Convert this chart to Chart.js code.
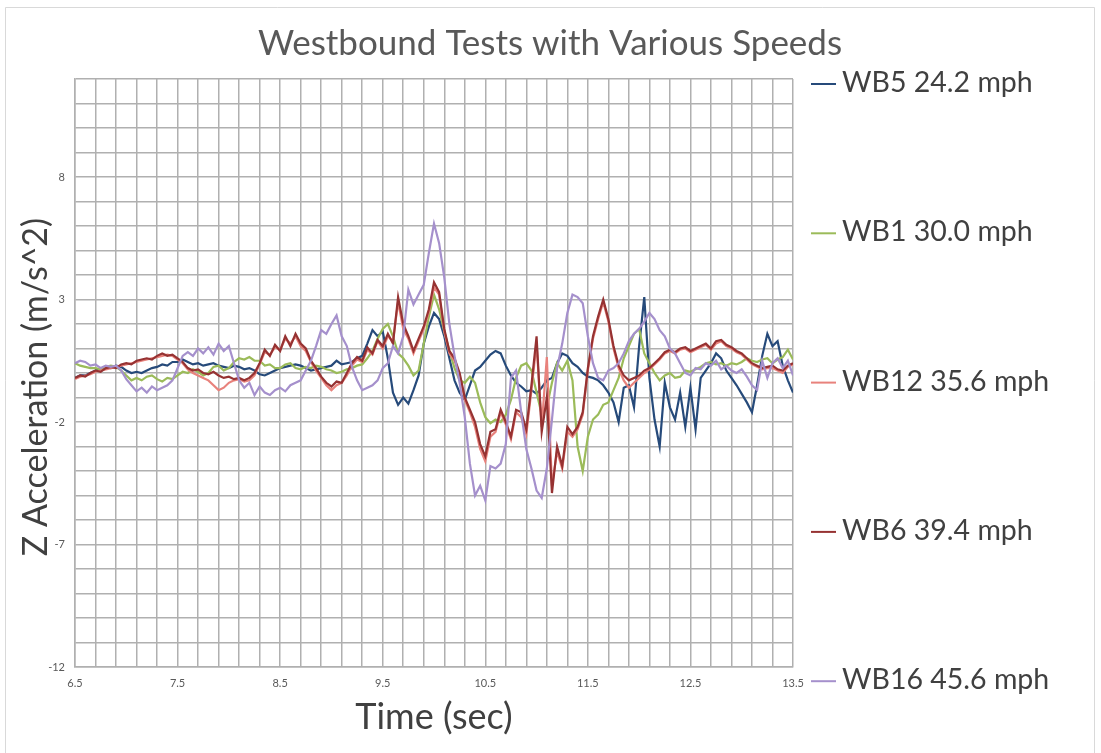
<!DOCTYPE html>
<html>
<head>
<meta charset="utf-8">
<script src="https://cdn.jsdelivr.net/npm/chart.js@4/dist/chart.umd.min.js"></script>
<style>
  html, body { margin: 0; padding: 0; background: #fff; }
  #wrap { position: relative; width: 1101px; height: 753px; }
</style>
</head>
<body>
<div id="wrap"><canvas id="chart" width="1101" height="753"></canvas></div>
<script>
// sampling of the traces (sec)
var t0 = 6.5;
var dt = 0.05;

var seriesNames = ['WB5 24.2 mph', 'WB1 30.0 mph', 'WB12 35.6 mph', 'WB6 39.4 mph', 'WB16 45.6 mph'];
var seriesColors = ['#264a7a', '#9bbb59', '#e8827c', '#963232', '#a590cc'];

var xTickLabels = ['6.5', '7.5', '8.5', '9.5', '10.5', '11.5', '12.5', '13.5'];
var yTickLabels = [-12, -7, -2, 3, 8];

// Z acceleration (m/s^2), one value every 0.05 s from 6.5 to 13.5
var wb5 = [
  -0.2, -0.1, -0.1, 0.0, 0.1, 0.15, 0.25, 0.2, 0.3, 0.25, 0.1, 0.0, 0.05, 0.0, 0.1, 0.2, 0.25, 0.35, 0.3, 0.45,
  0.45, 0.55, 0.45, 0.35, 0.4, 0.3, 0.35, 0.4, 0.3, 0.25, 0.2, 0.3, 0.25, 0.15, 0.2, 0.1, -0.05, -0.1, 0.0, 0.1,
  0.2, 0.25, 0.3, 0.35, 0.3, 0.2, 0.1, 0.15, 0.2, 0.25, 0.3, 0.5, 0.35, 0.4, 0.45, 0.6, 0.7, 1.2, 1.75, 1.5,
  1.7, 0.6, -0.8, -1.3, -1.0, -1.25, -0.7, -0.1, 1.2, 1.9, 2.45, 2.2, 1.5, 0.6, -0.3, -0.8, -1.1, -0.5, 0.1, 0.25,
  0.5, 0.75, 0.9, 0.8, 0.3, -0.1, -0.4, -0.55, -0.75, -0.7, -0.85, -0.6, -0.3, -0.2, 0.4, 0.8, 0.7, 0.4, 0.25, 0.0,
  -0.15, -0.2, -0.3, -0.5, -0.8, -1.2, -2.0, -0.6, -0.5, -1.4, 1.1, 3.1, -0.2, -1.9, -3.0, -0.4, -1.4, -1.9, -0.8, -2.2,
  -0.6, -2.3, -0.2, 0.1, 0.4, 0.8, 0.6, 0.1, -0.2, -0.5, -0.85, -1.2, -1.6, -0.5, 0.7, 1.6, 1.1, 1.3, 0.3, -0.3,
  -0.8
];
var wb1 = [
  0.4, 0.3, 0.25, 0.2, 0.2, 0.15, 0.25, 0.3, 0.25, 0.1, -0.1, -0.3, -0.2, -0.3, -0.15, -0.1, -0.25, -0.35, -0.2, -0.25,
  -0.1, 0.05, 0.0, 0.15, 0.05, -0.1, 0.0, 0.25, 0.3, 0.1, 0.2, 0.45, 0.6, 0.55, 0.65, 0.5, 0.5, 0.3, 0.35, 0.2,
  0.2, 0.35, 0.4, 0.2, 0.15, 0.25, 0.2, 0.3, 0.25, 0.15, 0.1, 0.0, 0.05, 0.15, 0.2, 0.3, 0.35, 0.6, 0.9, 1.4,
  1.8, 2.0, 1.5, 0.8, 0.6, 0.3, -0.1, 0.1, 1.2, 2.3, 3.2, 2.6, 1.7, 0.9, 0.2, -0.3, -0.4, -0.15, -0.4, -1.2,
  -1.8, -2.05, -1.9, -2.0, -1.7, -1.1, -0.2, 0.3, 0.4, 0.1, -0.8, -1.7, -1.4, -0.4, 0.4, 0.1, 0.5, -0.3, -3.0, -4.0,
  -2.6, -1.9, -1.7, -1.3, -1.2, -0.7, -0.2, 0.6, 1.1, 1.6, 1.8, 0.8, 0.4, 0.0, -0.3, -0.1, 0.0, -0.2, -0.15, 0.1,
  0.05, 0.15, 0.25, 0.4, 0.45, 0.35, 0.4, 0.3, 0.4, 0.35, 0.45, 0.6, 0.5, 0.45, 0.55, 0.6, 0.4, 0.55, 0.65, 0.95,
  0.55
];
var wb12 = [
  -0.25, -0.15, -0.1, -0.05, 0.05, 0.1, 0.15, 0.2, 0.25, 0.3, 0.35, 0.4, 0.45, 0.5, 0.55, 0.6, 0.65, 0.7, 0.75, 0.7,
  0.55, 0.4, 0.15, 0.0, -0.1, -0.2, -0.3, -0.5, -0.7, -0.6, -0.4, -0.3, -0.25, -0.35, -0.3, -0.1, 0.35, 0.85, 0.75, 1.05,
  0.95, 1.4, 1.2, 1.5, 1.1, 0.9, 0.45, 0.1, -0.2, -0.5, -0.7, -0.5, -0.4, -0.1, 0.3, 0.55, 0.45, 0.95, 0.75, 1.3,
  1.0, 1.5, 1.3, 2.9, 1.8, 1.4, 0.8, 1.3, 1.8, 2.5, 3.5, 3.2, 1.7, 0.8, 0.5, -0.1, -1.1, -1.6, -2.2, -3.1,
  -3.6, -2.6, -2.4, -1.6, -2.1, -2.7, -1.6, -1.8, -2.5, -0.7, 1.2, -2.2, 0.65, -4.6, -3.2, -3.9, -2.4, -2.6, -2.3, -1.7,
  0.1, 1.4, 2.2, 2.9, 2.1, 1.0, 0.2, -0.3, -0.6, -0.4, -0.2, 0.0, 0.15, 0.35, 0.55, 0.8, 0.9, 0.8, 0.95, 1.0,
  0.85, 0.95, 1.05, 1.15, 0.95, 1.2, 1.3, 1.1, 1.0, 0.85, 0.75, 0.55, 0.35, 0.25, 0.15, 0.2, 0.2, 0.1, 0.0, 0.25,
  0.35
];
var wb6 = [
  -0.2, -0.1, -0.15, 0.0, 0.1, 0.05, 0.2, 0.25, 0.2, 0.35, 0.4, 0.35, 0.5, 0.55, 0.6, 0.55, 0.7, 0.8, 0.7, 0.75,
  0.6, 0.45, 0.2, 0.1, 0.15, 0.0, -0.05, 0.05, -0.1, -0.2, -0.15, -0.25, -0.2, -0.3, -0.2, 0.0, 0.4, 0.95, 0.7, 1.15,
  0.9, 1.5, 1.1, 1.6, 1.2, 1.0, 0.5, 0.2, -0.15, -0.4, -0.55, -0.35, -0.4, 0.0, 0.4, 0.65, 0.5, 1.05, 0.8, 1.35,
  1.1, 1.6, 1.2, 3.1, 2.0, 1.5, 0.9, 1.4, 1.9, 2.6, 3.7, 3.3, 1.8, 0.9, 0.6, 0.0, -1.0, -1.5, -2.0, -2.9,
  -3.4, -2.4, -2.3, -1.5, -2.0, -2.6, -1.5, -1.6, -2.3, -0.5, 1.5, -2.4, -1.0, -4.9, -3.0, -3.8, -2.2, -2.5, -2.2, -1.6,
  0.2, 1.5, 2.3, 3.0, 2.2, 1.1, 0.3, -0.1, -0.3, -0.2, -0.1, 0.1, 0.2, 0.4, 0.6, 0.85, 0.95, 0.85, 1.0, 1.05,
  0.9, 1.0, 1.1, 1.2, 1.0, 1.3, 1.35, 1.15, 1.05, 0.9, 0.8, 0.6, 0.4, 0.3, 0.2, 0.25, 0.3, 0.15, 0.1, 0.3,
  0.4
];
var wb16 = [
  0.4, 0.5, 0.45, 0.3, 0.35, 0.2, 0.3, 0.25, 0.3, 0.1, -0.25, -0.5, -0.75, -0.6, -0.8, -0.55, -0.7, -0.6, -0.5, -0.3,
  0.2, 0.7, 0.85, 0.7, 1.0, 0.8, 1.05, 0.75, 1.2, 0.9, 1.1, 0.4, -0.3, -0.6, -0.4, -0.9, -0.55, -0.8, -0.9, -0.7,
  -0.6, -0.75, -0.5, -0.4, -0.3, 0.1, 0.5, 1.1, 1.75, 1.6, 2.0, 2.35, 1.5, 1.1, 0.25, -0.3, -0.7, -0.6, -0.5, -0.3,
  0.2, 0.4, 1.1, 0.8, 1.5, 3.4, 2.8, 3.2, 3.6, 4.9, 6.1, 5.3, 3.9, 2.0, 0.7, -0.4, -1.8, -3.7, -5.0, -4.6,
  -5.2, -3.8, -3.9, -3.7, -2.9, -0.2, 0.1, -1.6, -3.1, -3.9, -4.8, -5.1, -3.9, -1.9, 0.2, 1.2, 2.45, 3.2, 3.1, 2.85,
  1.5, 0.4, -0.2, -0.3, 0.1, 0.2, 0.4, 0.8, 1.3, 1.6, 1.8, 2.1, 2.45, 2.2, 1.75, 1.5, 1.0, 0.8, 0.4, 0.0,
  -0.1, 0.2, 0.15, 0.4, 0.3, 0.5, 0.15, 0.3, 0.1, 0.0, 0.15, -0.15, -0.5, -0.7, 0.5, -0.2, 0.4, 0.6, 0.2, 0.5,
  -0.1
];

var seriesValues = [wb5, wb1, wb12, wb6, wb16];
var fontFamily = 'Lato, "Open Sans", sans-serif';
var gridColor = '#b0b0b0';

function toPoints(values) {
    return values.map((v, i) => ({ x: Math.round((t0 + i * dt) * 100) / 100, y: v }));
}

// Excel draws later series on top; Chart.js draws dataset 0 on top, so reverse
var datasets = seriesNames.map((name, i) => ({
    label: name,
    data: toPoints(seriesValues[i]),
    borderColor: seriesColors[i],
    backgroundColor: seriesColors[i],
    borderWidth: 2.2,
    pointRadius: 0,
    tension: 0,
    fill: false
})).reverse();

// title, y title, frame and the spread-out legend on the right
var decorPlugin = {
    id: 'decor',
    beforeDraw(chart) {
        const ctx = chart.ctx;
        ctx.save();
        ctx.fillStyle = '#fff';
        ctx.fillRect(0, 0, chart.width, chart.height);
        ctx.strokeStyle = '#d9d9d9';
        ctx.lineWidth = 1;
        ctx.beginPath();
        ctx.moveTo(5.5, 760);
        ctx.lineTo(5.5, 7.5);
        ctx.lineTo(1094.5, 7.5);
        ctx.lineTo(1094.5, 760);
        ctx.stroke();
        ctx.restore();
    },
    afterDraw(chart) {
        const ctx = chart.ctx;
        ctx.save();
        ctx.fillStyle = '#595959';
        ctx.font = '35px ' + fontFamily;
        ctx.textAlign = 'center';
        ctx.textBaseline = 'middle';
        ctx.fillText('Westbound Tests with Various Speeds', 550, 44);

        // y axis title
        ctx.save();
        ctx.translate(36, 387);
        ctx.rotate(-Math.PI / 2);
        ctx.fillStyle = '#404040';
        ctx.font = '34px ' + fontFamily;
        ctx.fillText('Z Acceleration (m/s^2)', 0, 0);
        ctx.restore();

        ctx.font = '28.5px ' + fontFamily;
        ctx.textAlign = 'left';
        seriesNames.forEach((name, i) => {
            const y = 83 + i * 149.3;
            ctx.strokeStyle = seriesColors[i];
            ctx.lineWidth = 2;
            ctx.beginPath();
            ctx.moveTo(811, y + 1);
            ctx.lineTo(836, y + 1);
            ctx.stroke();
            ctx.fillStyle = '#404040';
            ctx.fillText(name, 842, y);
        });
        ctx.restore();
    }
};

var ctx = document.getElementById('chart').getContext('2d');
var myChart = new Chart(ctx, {
    type: 'line',
    data: { datasets: datasets },
    options: {
        responsive: false,
        animation: false,
        devicePixelRatio: 1,
        layout: {
            padding: { left: 0, top: 79, right: 308, bottom: 0 }
        },
        plugins: {
            legend: { display: false },
            title: { display: false },
            tooltip: { enabled: false }
        },
        scales: {
            x: {
                type: 'linear',
                min: 6.5,
                max: 13.5,
                afterBuildTicks: (scale) => {
                    // grid every 0.2 s, labels only every second
                    const ticks = [];
                    for (let i = 0; i <= 35; i++) {
                        ticks.push({ value: Math.round((6.5 + i * 0.2) * 10) / 10 });
                    }
                    scale.ticks = ticks;
                },
                afterFit: (scale) => { scale.height = 86; },
                ticks: {
                    autoSkip: false,
                    maxRotation: 0,
                    padding: 10,
                    color: '#595959',
                    font: { family: fontFamily, size: 11 },
                    callback: (value) => {
                        const s = (Math.round(value * 10) / 10).toFixed(1);
                        return xTickLabels.includes(s) ? s : '';
                    }
                },
                grid: { color: gridColor, lineWidth: 1.5, drawTicks: false },
                border: { color: gridColor, width: 1.5 },
                title: {
                    display: true,
                    text: 'Time (sec)',
                    color: '#404040',
                    font: { family: fontFamily, size: 36 },
                    padding: { top: 0, bottom: 14 }
                }
            },
            y: {
                min: -12,
                max: 12,
                afterFit: (scale) => { scale.width = 75; },
                ticks: {
                    stepSize: 1,
                    autoSkip: false,
                    padding: 10,
                    color: '#595959',
                    font: { family: fontFamily, size: 11 },
                    callback: (value) => yTickLabels.includes(value) ? String(value) : ''
                },
                grid: { color: gridColor, lineWidth: 1.5, drawTicks: false },
                border: { color: gridColor, width: 1.5 },
                title: { display: false }
            }
        }
    },
    plugins: [decorPlugin]
});
</script>
</body>
</html>
